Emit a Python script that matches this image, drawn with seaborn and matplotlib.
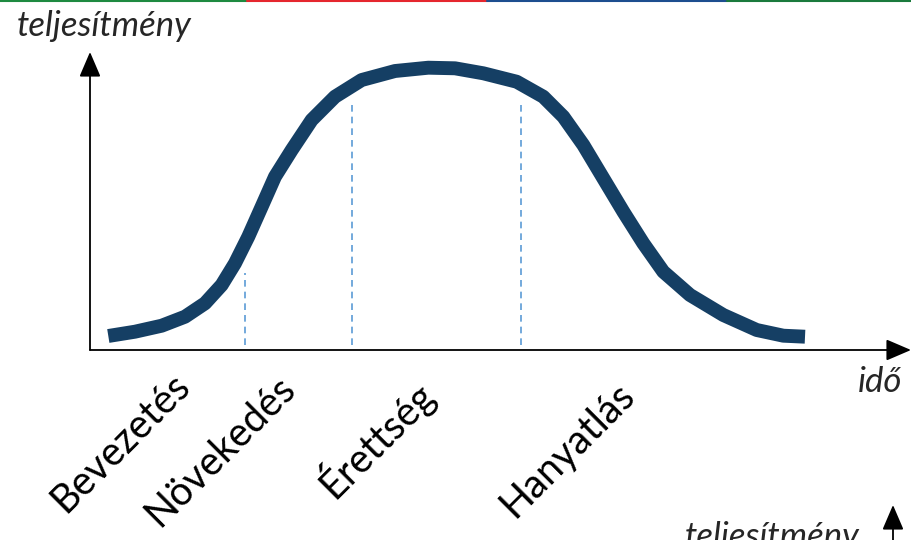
import matplotlib
matplotlib.use("Agg")
import matplotlib.pyplot as plt
import seaborn as sns
import pandas as pd

# ---- data ----
time = [2.23, 5.48, 8.73, 11.57, 14.01, 16.04, 17.66, 19.28, 20.91, 22.53, 24.57,
        27.00, 29.84, 33.09, 37.15, 41.21, 44.46, 47.91, 51.97, 55.21, 57.65,
        60.09, 62.52, 64.96, 67.39, 69.83, 73.08, 77.14, 81.21, 84.45, 87.09]
performance = [4.70, 6.14, 8.15, 11.17, 15.67, 21.81, 29.09, 38.02, 48.09, 58.15, 67.11,
               77.18, 85.00, 90.60, 93.62, 94.73, 94.53, 92.85, 90.03, 85.00, 78.29,
               68.79, 57.62, 46.41, 35.81, 26.28, 18.46, 11.74, 6.71, 4.80, 4.46]
phase_labels = ["Bevezetés", "Növekedés", "Érettség", "Hanyatlás"]
phase_bounds = [18.9, 31.9, 52.5]
phase_bound_tops = [25.8, 83.9, 82.2]
y_label = "teljesítmény"
x_label = "idő"

df = pd.DataFrame({"idő": time, "teljesítmény": performance})

W, H = 911, 540
sns.set_style("white")
plt.rcParams["font.family"] = ["Lato", "DejaVu Sans"]

fig = plt.figure(figsize=(W / 100, H / 100), dpi=100)
# axes: origin at pixel (90, 350), right end 911, top 52
ax = fig.add_axes([90 / W, (H - 350) / H, (W - 90) / W, (350 - 52) / H])
ax.set_xlim(0, 100)
ax.set_ylim(0, 100)
ax.axis("off")

curve_color = "#153f64"
sns.lineplot(data=df, x="idő", y="teljesítmény", sort=False, color=curve_color,
             linewidth=10, ax=ax, legend=False, clip_on=False)
for l in ax.lines:
    l.set_solid_capstyle("butt")
    l.set_solid_joinstyle("round")

for xb, top in zip(phase_bounds, phase_bound_tops):
    ax.plot([xb, xb], [1.7, top], color="#5b9bd5", lw=1.2, ls=(0, (4, 3)))

# axes arrows
arrow_kw = dict(arrowstyle="-|>,head_length=0.7,head_width=0.3", color="black",
                lw=1.3, mutation_scale=22, shrinkA=0, shrinkB=0)
ax.annotate("", xy=(0, 100), xytext=(0, 0), xycoords="data", arrowprops=arrow_kw,
            annotation_clip=False)
ax.annotate("", xy=(100, 0), xytext=(0, 0), xycoords="data", arrowprops=arrow_kw,
            annotation_clip=False)

# phase labels
label_pos = [(3.7, -31.2), (15.8, -33.9), (34.7, -29.5), (58.2, -33.6)]
for lab, (tx, ty) in zip(phase_labels, label_pos):
    ax.text(tx, ty, lab, rotation=45, ha="center", va="center", fontsize=28.5,
            color="black", clip_on=False)

# axis titles
fig.text(104 / W, 1 - 26 / H, y_label, ha="center", va="center", fontsize=25,
         style="italic")
fig.text(880 / W, 1 - 382 / H, x_label, ha="center", va="center", fontsize=25,
         style="italic")

# cut-off repeat at bottom right
fig.text(772 / W, 1 - 521 / H, y_label, ha="center", va="top", fontsize=25,
         style="italic")
fig.add_artist(matplotlib.patches.FancyArrowPatch(
    (893 / W, -0.05), (893 / W, 1 - 505 / H), transform=fig.transFigure,
    arrowstyle="-|>,head_length=0.7,head_width=0.3", color="black", lw=1.3,
    mutation_scale=22, shrinkA=0, shrinkB=0))

# top colour bar
segs = [(0, 247, "#1e8a40"), (247, 487, "#e5262e"), (487, 727, "#1d4e8f"), (727, 911, "#1a7a3c")]
for x0, x1, c in segs:
    fig.add_artist(matplotlib.lines.Line2D([x0 / W, x1 / W], [1 - 0.8 / H, 1 - 0.8 / H],
                                           transform=fig.transFigure, color=c, lw=1.5))

fig.savefig("out.png", dpi=100)
